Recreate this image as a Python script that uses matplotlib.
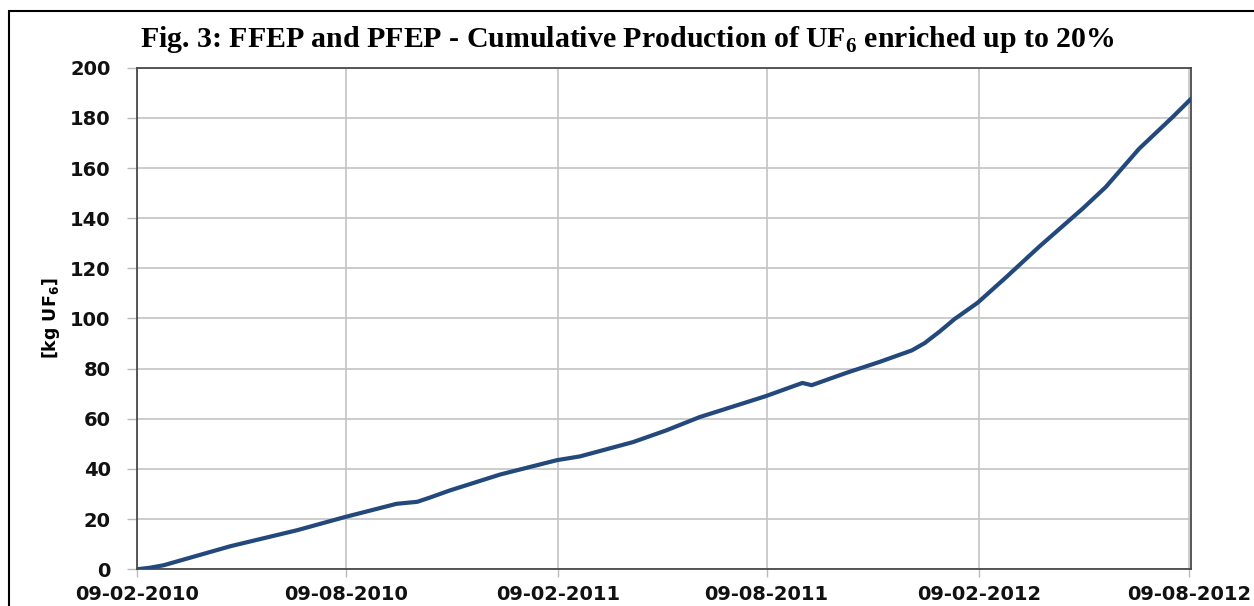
import numpy as np
import pandas as pd
import matplotlib
matplotlib.use('Agg')
import matplotlib.pyplot as plt
import matplotlib.dates as mdates
from matplotlib.patches import Rectangle

# cumulative production
dates = ['2010-02-09', '2010-02-20', '2010-03-04', '2010-05-01', '2010-06-28',
         '2010-08-08', '2010-09-22', '2010-10-10', '2010-10-21', '2010-11-07',
         '2010-12-21', '2011-02-08', '2011-02-28', '2011-04-15', '2011-05-14',
         '2011-06-12', '2011-08-08', '2011-09-09', '2011-09-17', '2011-10-17',
         '2011-11-15', '2011-12-13', '2011-12-24', '2012-01-06', '2012-01-19',
         '2012-02-08', '2012-03-04', '2012-04-01', '2012-05-09', '2012-05-29',
         '2012-06-27', '2012-07-26', '2012-08-11']
kg_uf6 = [0.0, 0.6, 1.6, 9.2, 15.6,
          20.8, 26.1, 26.9, 28.6, 31.4,
          37.8, 43.5, 45.0, 50.7, 55.4,
          60.7, 69.0, 74.3, 73.4, 78.3,
          82.7, 87.3, 90.2, 94.8, 99.8,
          106.3, 116.6, 128.5, 143.8, 152.4,
          167.7, 180.3, 187.6]
tick_dates = ['2010-02-09', '2010-08-09', '2011-02-09', '2011-08-09', '2012-02-09', '2012-08-09']

x = pd.to_datetime(dates)
ticks = pd.to_datetime(tick_dates)

plt.rcParams['mathtext.fontset'] = 'custom'
plt.rcParams['mathtext.rm'] = 'Liberation Serif:bold'
plt.rcParams['mathtext.bf'] = 'Liberation Serif:bold'

fig = plt.figure(figsize=(12.54, 6.06), dpi=100)
fig.patch.set_facecolor('w')
ax = fig.add_axes([0.1093, 0.0606, 0.8405, 0.8277])

ax.plot(x, kg_uf6, color='#23497c', lw=3, solid_capstyle='round',
        solid_joinstyle='round', zorder=3)

ax.set_ylim(0, 200)
ax.set_yticks(np.arange(0, 201, 20))
ax.set_xlim(pd.Timestamp('2010-02-09'), pd.Timestamp('2012-08-11'))
ax.set_xticks(ticks)
ax.xaxis.set_major_formatter(mdates.DateFormatter('%d-%m-%Y'))

ax.grid(True, color='#c4c4c4', lw=1.2)
ax.set_axisbelow(True)
for s in ax.spines.values():
    s.set_color('#4a4a4a')
    s.set_linewidth(1.3)

ax.tick_params(axis='y', length=7, width=1, color='#bbbbbb', pad=12)
ax.tick_params(axis='x', length=6, width=1, color='#bbbbbb', pad=5)
for lab in ax.get_xticklabels() + ax.get_yticklabels():
    lab.set_fontfamily('DejaVu Sans')
    lab.set_fontweight('bold')
    lab.set_fontsize(14)
    lab.set_color('#111111')

ax.set_ylabel('[kg UF$_\\mathregular{6}$]', family='DejaVu Sans', fontweight='bold',
              fontsize=12.5, labelpad=6)
plt.rcParams['mathtext.rm'] = 'DejaVu Sans:bold'

fig.text(0.5, 0.934, 'Fig. 3: FFEP and PFEP - Cumulative Production of UF$_\\mathbf{6}$ enriched up to 20%',
         ha='center', va='center', family='Liberation Serif', fontweight='bold', fontsize=21.5)

# outer chart border
fig.add_artist(Rectangle((9 / 1254, -0.1), 1.2, 1.1 - 11 / 606, transform=fig.transFigure,
                         fill=False, edgecolor='black', lw=1.5))

plt.savefig('out.png', dpi=100)
